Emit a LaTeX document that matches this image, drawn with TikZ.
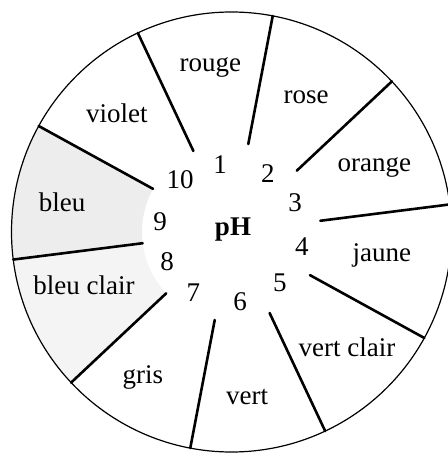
\documentclass[tikz,border=0pt]{standalone}
\usepackage{fontspec}
\setmainfont{Liberation Serif}
\usetikzlibrary{positioning}

\begin{document}
\begin{tikzpicture}[
  x=0.5pt, y=0.5pt,
  sep/.style={line width=1.3pt, line cap=round},
  rim/.style={line width=0.6pt},
  lab/.style={font=\fontsize{13.5}{16}\selectfont, inner sep=1pt},
  num/.style={font=\fontsize{13.5}{16}\selectfont, inner sep=1pt},
  tint/.style={fill=gray!14}
]
\useasboundingbox (-231.5,-221) rectangle (215.5,232);

% shaded sectors (bleu, bleu clair)
\fill[tint] (151.2:89.5) -- (151.2:220) arc[start angle=151.2, end angle=187.2, radius=220]
  -- (187.2:89.5) arc[start angle=187.2, end angle=151.2, radius=89.5] -- cycle;
\fill[tint, fill=gray!9] (187.2:89.5) -- (187.2:220) arc[start angle=187.2, end angle=223.2, radius=220]
  -- (223.2:89.5) arc[start angle=223.2, end angle=187.2, radius=89.5] -- cycle;

\draw[rim] (0,0) circle[radius=220];

\draw[sep] (79.2:89.5) -- (79.2:220);
\draw[sep] (43.2:89.5) -- (43.2:220);
\draw[sep] (7.2:89.5) -- (7.2:220);
\draw[sep] (-28.8:89.5) -- (-28.8:220);
\draw[sep] (-64.8:89.5) -- (-64.8:220);
\draw[sep] (-100.8:89.5) -- (-100.8:220);
\draw[sep] (-136.8:89.5) -- (-136.8:220);
\draw[sep] (-172.8:89.5) -- (-172.8:220);
\draw[sep] (151.2:89.5) -- (151.2:220);
\draw[sep] (115.2:89.5) -- (115.2:220);

\node[num, font=\fontsize{13.5}{16}\selectfont\bfseries] (ph) at (1.5,2) {pH};

\node[num] (n1) at (99.7:68) {1};
\node[num] (n2) at (58.3:69) {2};
\node[num] (n3) at (24.5:70) {3};
\node[num] (n4) at (-12:72) {4};
\node[num] (n5) at (-46.4:70) {5};
\node[num] (n6) at (-83:70) {6};
\node[num] (n7) at (-122:72) {7};
\node[num] (n8) at (-155:71) {8};
\node[num] (n9) at (172:72) {9};
\node[num] (n10) at (134.7:73) {10};

\node[lab] (rouge) at (97.3:166) {rouge};
\node[lab] (rose) at (61:154) {rose};
\node[lab] (orange) at (24.4:157) {orange};
\node[lab] (jaune) at (-8.7:152) {jaune};
\node[lab] (vclair) at (-44.9:163) {vert clair};
\node[lab] (vert) at (-84.6:166) {vert};
\node[lab] (gris) at (-121.4:170) {gris};
\node[lab] (bclair) at (-160:157) {bleu clair};
\node[lab] (bleu) at (170:172) {bleu};
\node[lab] (violet) at (134:165) {violet};
\end{tikzpicture}
\end{document}
